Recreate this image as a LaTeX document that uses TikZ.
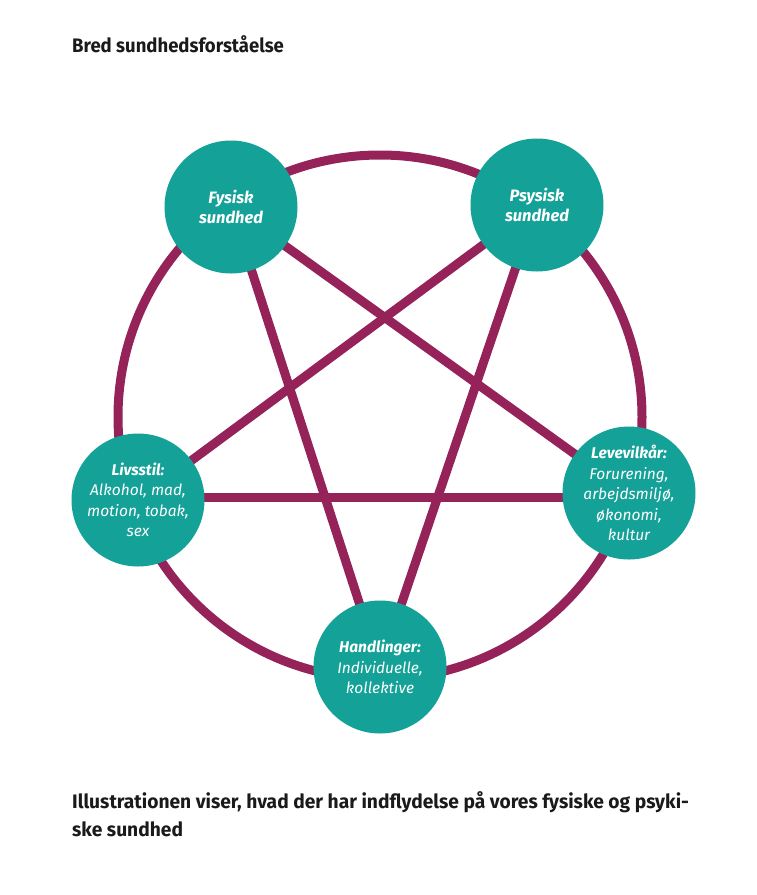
\documentclass[tikz,border=0pt]{standalone}
\usepackage{fontspec}
\usepackage{graphicx}
\setmainfont{Fira Sans}
\definecolor{maroon}{HTML}{952359}
\definecolor{tealc}{HTML}{14A198}
\definecolor{txt}{HTML}{1A1A1A}
\begin{document}
\begin{tikzpicture}[x=1pt,y=-1pt,
  conn/.style={draw=maroon,line width=9pt},
  bubble/.style={circle,fill=tealc,inner sep=0pt,minimum size=133pt,text=white,align=center,
    font=\fontsize{15.5}{20.5}\selectfont\itshape},
  bigtext/.style={font=\fontsize{16.5}{20.5}\selectfont\itshape\bfseries},
  heading/.style={anchor=base west,text=txt,inner sep=0pt,align=left}]
\useasboundingbox (0,0) rectangle (756,895);
\fill[white] (0,0) rectangle (756,895);
\node[heading] (title) at (72,52) {\scalebox{0.95}[1]{\fontsize{19.5}{24}\selectfont\bfseries Bred sundhedsforståelse}};
\node[circle,draw=maroon,line width=9pt,minimum size=524pt,inner sep=0pt] (ring) at (380,417) {};
\coordinate (cfys) at (231,207);
\coordinate (cpsy) at (537,205);
\coordinate (cliv) at (138,500);
\coordinate (clev) at (629,493);
\coordinate (chan) at (380,667);
\coordinate (hl) at (0,497);
\draw[conn] (cfys) -- (chan);
\draw[conn] (cfys) -- (clev);
\draw[conn] (cpsy) -- (cliv);
\draw[conn] (cpsy) -- (chan);
\draw[conn] (cliv |- hl) -- (clev |- hl);
\node[bubble,bigtext] (fys) at (cfys) {Fysisk\\sundhed};
\node[bubble,bigtext] (psy) at (cpsy) {Psysisk\\sundhed};
\node[bubble] (liv) at (cliv) {\bfseries Livsstil:\\Alkohol, mad,\\motion, tobak,\\sex};
\node[bubble] (lev) at (clev) {\bfseries Levevilkår:\\Forurening,\\arbejdsmiljø,\\økonomi,\\kultur};
\node[bubble] (han) at (chan) {\bfseries Handlinger:\\Individuelle,\\kollektive};
\node[heading] (cap1) at (72,808) {\scalebox{0.985}[1]{\fontsize{19.5}{24}\selectfont\bfseries Illustrationen viser, hvad der har indflydelse på vores fysiske og psyki-}};
\node[heading] (cap2) at (72,836) {\scalebox{0.985}[1]{\fontsize{19.5}{24}\selectfont\bfseries ske sundhed}};
\end{tikzpicture}
\end{document}
